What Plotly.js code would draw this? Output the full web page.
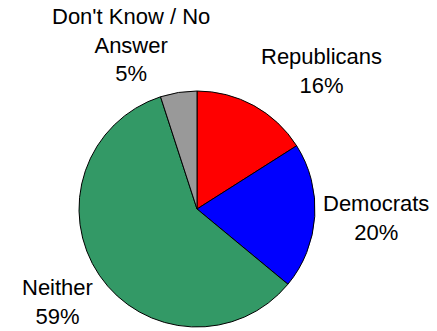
<!DOCTYPE html>
<html>
<head>
<meta charset="utf-8">
<script src="https://cdn.plot.ly/plotly-3.0.1.min.js"></script>
<style>html,body{margin:0;padding:0;background:#fff;}#chart{width:437px;height:331px;}</style>
</head>
<body>
<div id="chart"></div>
<script>
const labels = ["Republicans", "Democrats", "Neither", "Don't Know / No Answer"];
const labelLines = ["Republicans", "Democrats", "Neither", "Don't Know / No<br>Answer"];
const values = [16, 20, 59, 5];
const colors = ["#FF0000", "#0000FF", "#339966", "#999999"];

// label block centres in pixels (x, y)
const labelPos = [[321, 71], [376, 218], [57, 302], [131, 45]];

const W = 437, H = 331;
const cx = 197, cy = 209, r = 118;

const annotations = labels.map((l, i) => ({
  xref: "paper", yref: "paper",
  x: labelPos[i][0] / W, y: 1 - labelPos[i][1] / H,
  xanchor: "center", yanchor: "middle",
  text: labelLines[i] + "<br>" + values[i] + "%",
  showarrow: false,
  font: {family: "Liberation Sans, Arial, sans-serif", size: 22, color: "#000"},
  align: "center"
}));

Plotly.newPlot("chart", [{
  type: "pie",
  labels: labels,
  values: values,
  sort: false,
  direction: "clockwise",
  rotation: 0,
  textinfo: "none",
  hoverinfo: "label+percent",
  marker: {colors: colors, line: {color: "#000", width: 1}},
  domain: {x: [(cx - r) / W, (cx + r) / W], y: [1 - (cy + r) / H, 1 - (cy - r) / H]}
}], {
  width: W, height: H,
  margin: {l: 0, r: 0, t: 0, b: 0},
  showlegend: false,
  paper_bgcolor: "#fff",
  annotations: annotations
}, {displayModeBar: false, staticPlot: true});
</script>
</body>
</html>
